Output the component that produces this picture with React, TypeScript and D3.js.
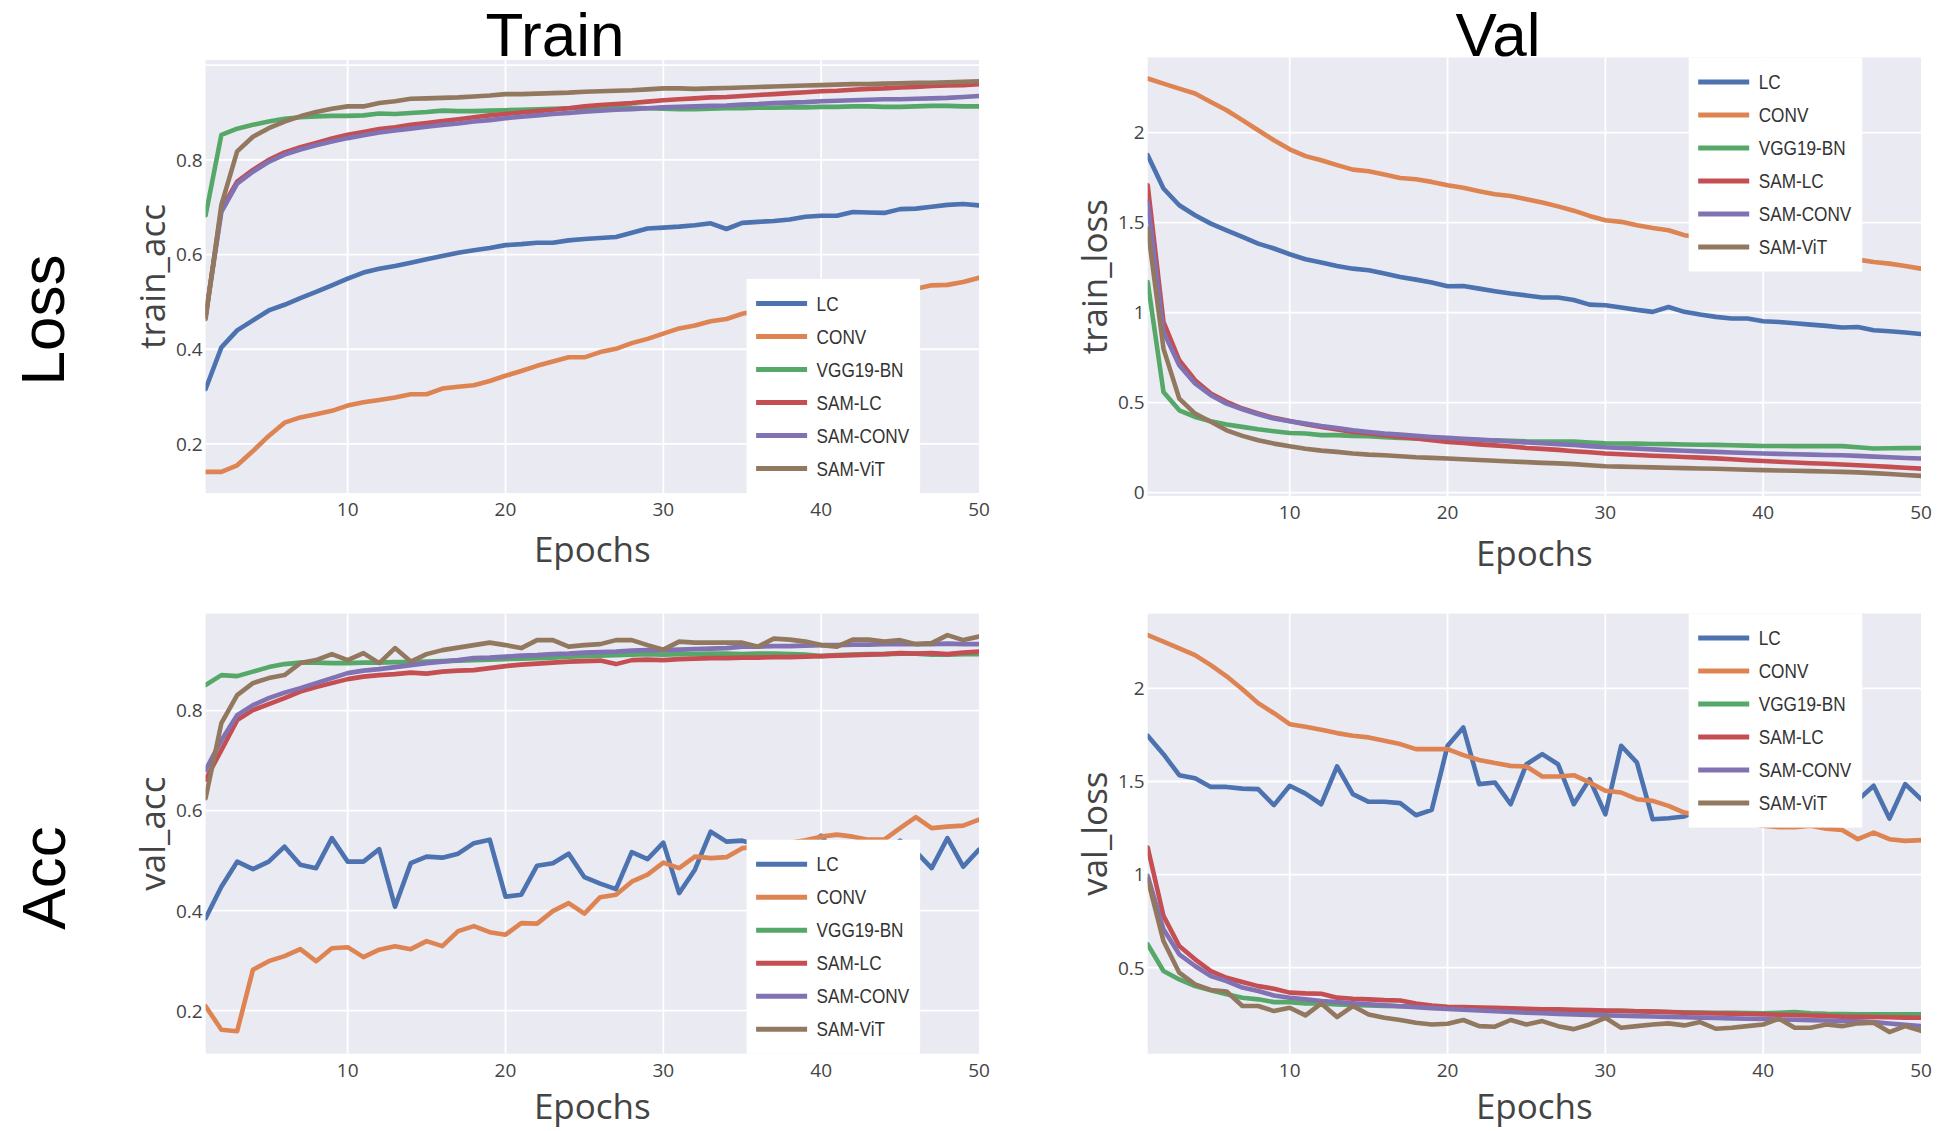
import * as React from 'react';
import * as d3 from 'd3';

const W = 1946;
const H = 1131;

const EPOCHS = d3.range(1, 51);
const MODELS = ['LC', 'CONV', 'VGG19-BN', 'SAM-LC', 'SAM-CONV', 'SAM-ViT'];
const COLORS = ['#4c72b0', '#dd8452', '#55a868', '#c44e52', '#8172b3', '#937860'];
const X_TICKS = [10, 20, 30, 40, 50];

// ---- train accuracy ----
const trainAccLC = [0.316, 0.404, 0.440, 0.461, 0.482, 0.494, 0.508, 0.521, 0.535, 0.549,
  0.562, 0.570, 0.576, 0.583, 0.590, 0.597, 0.604, 0.609, 0.614, 0.620,
  0.622, 0.625, 0.625, 0.630, 0.633, 0.635, 0.637, 0.646, 0.655, 0.657,
  0.659, 0.662, 0.666, 0.654, 0.667, 0.669, 0.671, 0.674, 0.680, 0.682,
  0.682, 0.690, 0.689, 0.688, 0.696, 0.697, 0.701, 0.705, 0.707, 0.704];
const trainAccCONV = [0.141, 0.141, 0.155, 0.185, 0.217, 0.245, 0.256, 0.263, 0.270, 0.281,
  0.288, 0.293, 0.298, 0.305, 0.305, 0.317, 0.321, 0.324, 0.333, 0.344,
  0.354, 0.365, 0.374, 0.383, 0.383, 0.394, 0.401, 0.413, 0.422, 0.433,
  0.444, 0.450, 0.459, 0.464, 0.475, 0.482, 0.489, 0.495, 0.500, 0.505,
  0.510, 0.514, 0.518, 0.521, 0.525, 0.528, 0.535, 0.536, 0.542, 0.551];
const trainAccVGG = [0.683, 0.853, 0.866, 0.874, 0.881, 0.887, 0.890, 0.892, 0.893, 0.893,
  0.894, 0.898, 0.897, 0.899, 0.901, 0.904, 0.903, 0.903, 0.904, 0.905,
  0.906, 0.907, 0.908, 0.909, 0.910, 0.910, 0.911, 0.910, 0.909, 0.908,
  0.907, 0.907, 0.908, 0.909, 0.909, 0.910, 0.910, 0.911, 0.911, 0.912,
  0.912, 0.913, 0.913, 0.912, 0.912, 0.913, 0.914, 0.914, 0.913, 0.913];
const trainAccSAMLC = [0.470, 0.697, 0.754, 0.779, 0.800, 0.816, 0.827, 0.836, 0.845, 0.853,
  0.859, 0.865, 0.869, 0.874, 0.878, 0.882, 0.886, 0.890, 0.894, 0.897,
  0.900, 0.903, 0.906, 0.909, 0.913, 0.916, 0.918, 0.920, 0.923, 0.926,
  0.928, 0.930, 0.932, 0.933, 0.935, 0.937, 0.939, 0.941, 0.943, 0.945,
  0.946, 0.948, 0.950, 0.951, 0.953, 0.954, 0.956, 0.957, 0.958, 0.960];
const trainAccSAMCONV = [0.470, 0.690, 0.750, 0.775, 0.796, 0.811, 0.822, 0.831, 0.839, 0.846,
  0.852, 0.858, 0.862, 0.866, 0.870, 0.874, 0.877, 0.881, 0.884, 0.888,
  0.891, 0.894, 0.897, 0.899, 0.902, 0.904, 0.906, 0.907, 0.909, 0.911,
  0.912, 0.913, 0.914, 0.915, 0.917, 0.918, 0.920, 0.921, 0.922, 0.924,
  0.925, 0.926, 0.927, 0.928, 0.928, 0.929, 0.930, 0.931, 0.933, 0.935];
const trainAccSAMViT = [0.464, 0.705, 0.818, 0.849, 0.867, 0.881, 0.892, 0.901, 0.908, 0.913,
  0.913, 0.920, 0.924, 0.929, 0.930, 0.931, 0.932, 0.934, 0.936, 0.939,
  0.939, 0.940, 0.941, 0.942, 0.944, 0.945, 0.946, 0.947, 0.949, 0.951,
  0.951, 0.950, 0.951, 0.952, 0.953, 0.954, 0.955, 0.956, 0.957, 0.958,
  0.959, 0.960, 0.960, 0.961, 0.962, 0.963, 0.963, 0.964, 0.965, 0.966];

// ---- train loss ----
const trainLossLC = [1.874, 1.689, 1.596, 1.541, 1.494, 1.457, 1.420, 1.383, 1.356, 1.324,
  1.296, 1.278, 1.259, 1.244, 1.235, 1.217, 1.198, 1.183, 1.167, 1.146,
  1.148, 1.133, 1.119, 1.106, 1.095, 1.084, 1.084, 1.070, 1.044, 1.041,
  1.028, 1.015, 1.004, 1.031, 1.004, 0.989, 0.976, 0.967, 0.967, 0.952,
  0.948, 0.941, 0.933, 0.926, 0.917, 0.920, 0.902, 0.896, 0.889, 0.881];
const trainLossCONV = [2.300, 2.272, 2.244, 2.217, 2.170, 2.124, 2.069, 2.013, 1.957, 1.907,
  1.869, 1.846, 1.819, 1.794, 1.785, 1.767, 1.748, 1.741, 1.726, 1.707,
  1.693, 1.674, 1.657, 1.648, 1.630, 1.612, 1.590, 1.566, 1.537, 1.513,
  1.504, 1.485, 1.470, 1.457, 1.430, 1.418, 1.405, 1.393, 1.380, 1.368,
  1.355, 1.343, 1.330, 1.318, 1.306, 1.294, 1.281, 1.272, 1.259, 1.244];
const trainLossVGG = [1.170, 0.559, 0.457, 0.420, 0.396, 0.378, 0.365, 0.352, 0.341, 0.331,
  0.328, 0.319, 0.319, 0.315, 0.313, 0.307, 0.304, 0.300, 0.296, 0.294,
  0.292, 0.291, 0.290, 0.288, 0.285, 0.284, 0.283, 0.283, 0.278, 0.274,
  0.273, 0.272, 0.270, 0.269, 0.267, 0.266, 0.265, 0.263, 0.261, 0.259,
  0.259, 0.258, 0.258, 0.259, 0.258, 0.252, 0.245, 0.246, 0.247, 0.248];
const trainLossSAMLC = [1.707, 0.948, 0.735, 0.624, 0.550, 0.504, 0.467, 0.439, 0.415, 0.398,
  0.380, 0.365, 0.350, 0.337, 0.328, 0.319, 0.309, 0.300, 0.291, 0.281,
  0.275, 0.268, 0.262, 0.256, 0.248, 0.243, 0.237, 0.230, 0.224, 0.217,
  0.213, 0.209, 0.205, 0.202, 0.198, 0.194, 0.190, 0.185, 0.180, 0.175,
  0.171, 0.167, 0.163, 0.160, 0.156, 0.152, 0.148, 0.143, 0.138, 0.133];
const trainLossSAMCONV = [1.615, 0.893, 0.707, 0.606, 0.541, 0.494, 0.463, 0.435, 0.411, 0.396,
  0.383, 0.370, 0.359, 0.346, 0.337, 0.328, 0.322, 0.315, 0.309, 0.304,
  0.299, 0.294, 0.289, 0.284, 0.279, 0.274, 0.269, 0.264, 0.258, 0.252,
  0.248, 0.244, 0.240, 0.236, 0.232, 0.229, 0.226, 0.223, 0.220, 0.217,
  0.215, 0.213, 0.211, 0.209, 0.207, 0.204, 0.200, 0.196, 0.192, 0.189];
const trainLossSAMViT = [1.467, 0.800, 0.522, 0.439, 0.393, 0.346, 0.315, 0.291, 0.272, 0.257,
  0.244, 0.233, 0.226, 0.217, 0.211, 0.207, 0.202, 0.196, 0.193, 0.189,
  0.185, 0.181, 0.177, 0.173, 0.169, 0.165, 0.162, 0.158, 0.152, 0.146,
  0.144, 0.142, 0.140, 0.138, 0.136, 0.134, 0.132, 0.130, 0.127, 0.125,
  0.123, 0.121, 0.119, 0.117, 0.115, 0.112, 0.108, 0.103, 0.098, 0.093];

// ---- val accuracy ----
const valAccLC = [0.385, 0.448, 0.498, 0.483, 0.498, 0.528, 0.492, 0.485, 0.545, 0.498,
  0.498, 0.523, 0.408, 0.495, 0.508, 0.506, 0.514, 0.535, 0.542, 0.428,
  0.432, 0.490, 0.495, 0.514, 0.467, 0.454, 0.443, 0.517, 0.503, 0.536,
  0.435, 0.482, 0.558, 0.538, 0.540, 0.530, 0.515, 0.500, 0.525, 0.550,
  0.505, 0.530, 0.500, 0.520, 0.540, 0.518, 0.485, 0.545, 0.488, 0.522];
const valAccCONV = [0.209, 0.162, 0.159, 0.282, 0.299, 0.309, 0.323, 0.299, 0.325, 0.327,
  0.307, 0.322, 0.329, 0.323, 0.339, 0.329, 0.359, 0.369, 0.357, 0.352,
  0.375, 0.374, 0.399, 0.415, 0.394, 0.427, 0.432, 0.458, 0.472, 0.496,
  0.485, 0.508, 0.505, 0.507, 0.525, 0.528, 0.532, 0.536, 0.541, 0.548,
  0.552, 0.548, 0.542, 0.542, 0.565, 0.587, 0.565, 0.568, 0.570, 0.582];
const valAccVGG = [0.851, 0.871, 0.869, 0.878, 0.887, 0.893, 0.896, 0.896, 0.895, 0.895,
  0.896, 0.896, 0.897, 0.897, 0.898, 0.899, 0.900, 0.901, 0.902, 0.903,
  0.904, 0.905, 0.906, 0.908, 0.909, 0.910, 0.911, 0.912, 0.913, 0.912,
  0.913, 0.913, 0.914, 0.914, 0.913, 0.914, 0.914, 0.913, 0.912, 0.909,
  0.911, 0.912, 0.913, 0.913, 0.914, 0.914, 0.912, 0.912, 0.913, 0.913];
const valAccSAMLC = [0.662, 0.721, 0.781, 0.801, 0.813, 0.825, 0.838, 0.847, 0.855, 0.863,
  0.868, 0.871, 0.873, 0.876, 0.874, 0.878, 0.880, 0.881, 0.885, 0.889,
  0.892, 0.894, 0.896, 0.898, 0.899, 0.900, 0.893, 0.901, 0.902, 0.901,
  0.903, 0.904, 0.905, 0.905, 0.906, 0.906, 0.907, 0.907, 0.908, 0.909,
  0.910, 0.911, 0.912, 0.913, 0.915, 0.914, 0.915, 0.913, 0.916, 0.918];
const valAccSAMCONV = [0.681, 0.741, 0.791, 0.811, 0.825, 0.836, 0.845, 0.855, 0.865, 0.875,
  0.880, 0.883, 0.887, 0.891, 0.895, 0.898, 0.901, 0.905, 0.906, 0.908,
  0.910, 0.911, 0.913, 0.914, 0.916, 0.917, 0.918, 0.920, 0.921, 0.921,
  0.922, 0.923, 0.924, 0.925, 0.928, 0.928, 0.929, 0.929, 0.930, 0.931,
  0.931, 0.932, 0.932, 0.933, 0.933, 0.933, 0.933, 0.934, 0.933, 0.933];
const valAccSAMViT = [0.625, 0.775, 0.831, 0.855, 0.865, 0.871, 0.895, 0.901, 0.913, 0.901,
  0.915, 0.895, 0.925, 0.898, 0.913, 0.921, 0.926, 0.931, 0.936, 0.931,
  0.925, 0.941, 0.941, 0.928, 0.931, 0.933, 0.941, 0.941, 0.931, 0.922,
  0.938, 0.936, 0.936, 0.936, 0.936, 0.928, 0.944, 0.942, 0.938, 0.931,
  0.928, 0.942, 0.942, 0.938, 0.941, 0.933, 0.935, 0.951, 0.941, 0.948];

// ---- val loss ----
const valLossLC = [1.746, 1.647, 1.534, 1.518, 1.471, 1.471, 1.462, 1.459, 1.373, 1.477,
  1.435, 1.378, 1.581, 1.432, 1.391, 1.391, 1.384, 1.319, 1.348, 1.692,
  1.790, 1.486, 1.495, 1.378, 1.593, 1.647, 1.593, 1.378, 1.513, 1.324,
  1.692, 1.602, 1.297, 1.303, 1.312, 1.350, 1.450, 1.320, 1.400, 1.500,
  1.380, 1.330, 1.450, 1.360, 1.300, 1.400, 1.477, 1.301, 1.486, 1.405];
const valLossCONV = [2.287, 2.251, 2.215, 2.179, 2.125, 2.065, 1.996, 1.921, 1.867, 1.808,
  1.794, 1.778, 1.760, 1.746, 1.737, 1.719, 1.701, 1.674, 1.674, 1.674,
  1.642, 1.616, 1.599, 1.584, 1.581, 1.527, 1.527, 1.534, 1.495, 1.450,
  1.441, 1.405, 1.396, 1.369, 1.333, 1.320, 1.305, 1.290, 1.275, 1.262,
  1.255, 1.255, 1.262, 1.247, 1.240, 1.190, 1.226, 1.190, 1.181, 1.185];
const valLossVGG = [0.625, 0.482, 0.437, 0.401, 0.378, 0.357, 0.339, 0.330, 0.315, 0.315,
  0.308, 0.308, 0.303, 0.300, 0.297, 0.295, 0.293, 0.291, 0.289, 0.287,
  0.285, 0.283, 0.281, 0.279, 0.277, 0.275, 0.272, 0.270, 0.268, 0.267,
  0.268, 0.266, 0.264, 0.262, 0.260, 0.259, 0.258, 0.258, 0.257, 0.255,
  0.258, 0.262, 0.255, 0.252, 0.251, 0.250, 0.250, 0.249, 0.249, 0.249];
const valLossSAMLC = [1.145, 0.778, 0.616, 0.545, 0.482, 0.446, 0.423, 0.401, 0.387, 0.366,
  0.362, 0.360, 0.339, 0.333, 0.330, 0.326, 0.324, 0.308, 0.297, 0.290,
  0.288, 0.286, 0.284, 0.282, 0.279, 0.277, 0.276, 0.274, 0.272, 0.270,
  0.268, 0.266, 0.264, 0.262, 0.258, 0.256, 0.254, 0.253, 0.251, 0.249,
  0.247, 0.245, 0.243, 0.241, 0.237, 0.236, 0.235, 0.234, 0.232, 0.231];
const valLossSAMCONV = [0.993, 0.706, 0.572, 0.509, 0.455, 0.428, 0.393, 0.375, 0.351, 0.339,
  0.330, 0.321, 0.315, 0.309, 0.303, 0.298, 0.293, 0.288, 0.283, 0.278,
  0.274, 0.270, 0.266, 0.262, 0.258, 0.255, 0.252, 0.249, 0.246, 0.244,
  0.242, 0.240, 0.238, 0.236, 0.234, 0.232, 0.230, 0.228, 0.226, 0.224,
  0.222, 0.220, 0.218, 0.216, 0.214, 0.212, 0.208, 0.200, 0.193, 0.186];
const valLossSAMViT = [0.975, 0.643, 0.473, 0.410, 0.380, 0.372, 0.294, 0.294, 0.267, 0.285,
  0.244, 0.308, 0.235, 0.294, 0.249, 0.231, 0.219, 0.204, 0.195, 0.199,
  0.219, 0.186, 0.183, 0.219, 0.195, 0.213, 0.186, 0.170, 0.195, 0.231,
  0.177, 0.186, 0.195, 0.201, 0.190, 0.208, 0.172, 0.177, 0.186, 0.195,
  0.226, 0.177, 0.177, 0.195, 0.186, 0.201, 0.204, 0.154, 0.186, 0.161];

const PANELS = [
  {
    box: { left: 205.6, right: 979, top: 60, bottom: 493 },
    yDomain: [0.0964, 1.011], yGrid: [0.2, 0.4, 0.6, 0.8, 1.0], yLabels: [0.2, 0.4, 0.6, 0.8],
    yTitle: 'train_acc', legendAt: 'bottom', epochsDy: 69,
    series: [trainAccLC, trainAccCONV, trainAccVGG, trainAccSAMLC, trainAccSAMCONV, trainAccSAMViT],
  },
  {
    box: { left: 1147.7, right: 1921, top: 57.5, bottom: 496 },
    yDomain: [-0.019, 2.417], yGrid: [0, 0.5, 1, 1.5, 2], yLabels: [0, 0.5, 1, 1.5, 2],
    yTitle: 'train_loss', legendAt: 'top', epochsDy: 70,
    series: [trainLossLC, trainLossCONV, trainLossVGG, trainLossSAMLC, trainLossSAMCONV, trainLossSAMViT],
  },
  {
    box: { left: 205.6, right: 979, top: 613.6, bottom: 1053.7 },
    yDomain: [0.114, 0.994], yGrid: [0.2, 0.4, 0.6, 0.8], yLabels: [0.2, 0.4, 0.6, 0.8],
    yTitle: 'val_acc', legendAt: 'bottom', epochsDy: 65,
    series: [valAccLC, valAccCONV, valAccVGG, valAccSAMLC, valAccSAMCONV, valAccSAMViT],
  },
  {
    box: { left: 1147.7, right: 1921, top: 613.6, bottom: 1053.7 },
    yDomain: [0.038, 2.402], yGrid: [0.5, 1, 1.5, 2], yLabels: [0.5, 1, 1.5, 2],
    yTitle: 'val_loss', legendAt: 'top', epochsDy: 65,
    series: [valLossLC, valLossCONV, valLossVGG, valLossSAMLC, valLossSAMCONV, valLossSAMViT],
  },
];

const TICK_FONT = '"Open Sans", "DejaVu Sans", sans-serif';
const LEGEND_FONT = '"Liberation Sans", Arial, sans-serif';

function Panel({ cfg, idx }) {
  const { box, yDomain, yGrid, yLabels, yTitle, legendAt, series, epochsDy } = cfg;
  const x = d3.scaleLinear().domain([1, 50]).range([box.left, box.right]);
  const y = d3.scaleLinear().domain(yDomain).range([box.bottom, box.top]);
  const line = d3.line<number>()
    .x((_, i) => x(EPOCHS[i]))
    .y(d => y(d));

  const legW = 173.5;
  const legH = 214;
  const legX = box.left + 541;
  const legY = legendAt === 'top' ? box.top : box.bottom - legH;
  const clipId = `clip-${idx}`;

  return (
    <g>
      <defs>
        <clipPath id={clipId}>
          <rect x={box.left} y={box.top} width={box.right - box.left} height={box.bottom - box.top} />
        </clipPath>
      </defs>
      <rect x={box.left} y={box.top} width={box.right - box.left} height={box.bottom - box.top} fill="#eaeaf2" />
      {X_TICKS.slice(0, -1).map(t => (
        <line key={`gx${t}`} x1={x(t)} x2={x(t)} y1={box.top} y2={box.bottom} stroke="#fff" strokeWidth={1.8} />
      ))}
      {yGrid.map(t => (
        <line key={`gy${t}`} x1={box.left} x2={box.right} y1={y(t)} y2={y(t)} stroke="#fff" strokeWidth={1.8} />
      ))}
      <g clipPath={`url(#${clipId})`}>
        {series.map((s, i) => (
          <path key={MODELS[i]} d={line(s) || ''} fill="none" stroke={COLORS[i]}
            strokeWidth={4.6} strokeLinejoin="round" strokeLinecap="round" />
        ))}
      </g>
      {X_TICKS.map(t => (
        <text key={`tx${t}`} x={x(t)} y={box.bottom + 23} textAnchor="middle"
          fontFamily={TICK_FONT} fontSize={19} fill="#444">{t}</text>
      ))}
      {yLabels.map(t => (
        <text key={`ty${t}`} x={box.left - 3} y={y(t)} dy="0.36em" textAnchor="end"
          fontFamily={TICK_FONT} fontSize={19} fill="#444">{String(t)}</text>
      ))}
      <text x={(box.left + box.right) / 2} y={box.bottom + epochsDy} textAnchor="middle"
        fontFamily={TICK_FONT} fontSize={35} fill="#444">Epochs</text>
      <text transform={`translate(${box.left - 41},${(box.top + box.bottom) / 2}) rotate(-90)`}
        textAnchor="middle" fontFamily={TICK_FONT} fontSize={35} fill="#444">{yTitle}</text>
      <rect x={legX} y={legY} width={legW} height={legH} fill="#fff" />
      {MODELS.map((m, i) => {
        const cy = legY + 24.5 + i * 33;
        return (
          <g key={`lg${m}`}>
            <line x1={legX + 9.5} x2={legX + 60.5} y1={cy} y2={cy} stroke={COLORS[i]} strokeWidth={5} />
            <text transform={`translate(${legX + 70},${cy}) scale(0.86,1)`} dy="0.36em"
              fontFamily={LEGEND_FONT} fontSize={20} fill="#333">{m}</text>
          </g>
        );
      })}
    </g>
  );
}

export default function App() {
  const big = { fontFamily: LEGEND_FONT, fontSize: 62, fill: '#000' };
  return (
    <svg width={W} height={H} style={{ position: 'absolute', left: 0, top: 0, background: '#fff' }}>
      {PANELS.map((p, i) => <Panel key={i} cfg={p} idx={i} />)}
      <text x={555} y={56} textAnchor="middle" {...big}>Train</text>
      <text x={1498} y={56} textAnchor="middle" {...big}>Val</text>
      <text transform="translate(64,320) rotate(-90)" textAnchor="middle" {...big}>Loss</text>
      <text transform="translate(65,878) rotate(-90)" textAnchor="middle" {...big}>Acc</text>
    </svg>
  );
}
